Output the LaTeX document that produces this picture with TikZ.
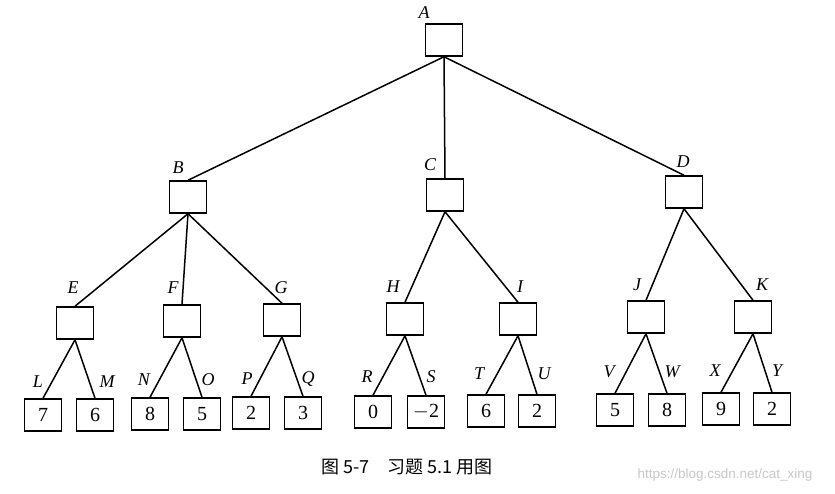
\documentclass[tikz,border=0pt]{standalone}
\usepackage{fontspec}
\usepackage{tikz}
\setmainfont{Liberation Serif}
\newfontfamily\cjkfont{Noto Sans CJK SC}
\newfontfamily\wmfont{Liberation Sans}
\usetikzlibrary{positioning}

\begin{document}
\begin{tikzpicture}[x=1pt,y=-1pt,line width=1.5pt,
  box/.style={rectangle,draw=black,minimum width=37pt,minimum height=32pt,inner sep=0pt,font=\fontsize{20}{20}\selectfont},
  lbl/.style={inner sep=0pt,font=\fontsize{18}{18}\selectfont\itshape}]
  \useasboundingbox (0,0) rectangle (835,493);

  \node[box] (A) at (444,40){};
  \node[lbl] (lA) at (424,13){A};

  \node[box] (B) at (188,197){};
  \node[lbl] (lB) at (178,168){B};
    \draw (A.south) -- (B.north);
  \node[box] (C) at (445,195){};
  \node[lbl] (lC) at (430,165){C};
    \draw (A.south) -- (C.north);
  \node[box] (D) at (684,192){};
  \node[lbl] (lD) at (683,162){D};
    \draw (A.south) -- (D.north);

  \node[box] (E) at (75,323){};
  \node[lbl] (lE) at (73,288){E};
    \draw (B.south) -- (E.north);
  \node[box] (F) at (182,321){};
  \node[lbl] (lF) at (173,288){F};
    \draw (B.south) -- (F.north);
  \node[box] (G) at (282,320){};
  \node[lbl] (lG) at (281,288){G};
    \draw (B.south) -- (G.north);
  \node[box] (H) at (405,319){};
  \node[lbl] (lH) at (393,287){H};
    \draw (C.south) -- (H.north);
  \node[box] (I) at (518,319){};
  \node[lbl] (lI) at (520,287){I};
    \draw (C.south) -- (I.north);
  \node[box] (J) at (646,317){};
  \node[lbl] (lJ) at (637,285){J};
    \draw (D.south) -- (J.north);
  \node[box] (K) at (753,317){};
  \node[lbl] (lK) at (762,285){K};
    \draw (D.south) -- (K.north);

  \node[box] (L) at (43,415){7};
  \node[lbl] (lL) at (38,382){L};
    \draw (E.south) -- (L.north);
  \node[box] (M) at (95,415){6};
  \node[lbl] (lM) at (107,382){M};
    \draw (E.south) -- (M.north);
  \node[box] (N) at (150,414){8};
  \node[lbl] (lN) at (144,380){N};
    \draw (F.south) -- (N.north);
  \node[box] (O) at (202,414){5};
  \node[lbl] (lO) at (208,380){O};
    \draw (F.south) -- (O.north);
  \node[box] (P) at (251,413){2};
  \node[lbl] (lP) at (247,379){P};
    \draw (G.south) -- (P.north);
  \node[box] (Q) at (303,413){3};
  \node[lbl] (lQ) at (308,379){Q};
    \draw (G.south) -- (Q.north);
  \node[box] (R) at (373,412){0};
  \node[lbl] (lR) at (367,377){R};
    \draw (H.south) -- (R.north);
  \node[box] (S) at (426,412){$-$2};
  \node[lbl] (lS) at (431,377){S};
    \draw (H.south) -- (S.north);
  \node[box] (T) at (486,411){6};
  \node[lbl] (lT) at (479,374){T};
    \draw (I.south) -- (T.north);
  \node[box] (U) at (537,411){2};
  \node[lbl] (lU) at (544,374){U};
    \draw (I.south) -- (U.north);
  \node[box] (V) at (615,410){5};
  \node[lbl] (lV) at (609,372){V};
    \draw (J.south) -- (V.north);
  \node[box] (W) at (667,410){8};
  \node[lbl] (lW) at (672,372){W};
    \draw (J.south) -- (W.north);
  \node[box] (X) at (721,409){9};
  \node[lbl] (lX) at (715,371){X};
    \draw (K.south) -- (X.north);
  \node[box] (Y) at (772,409){2};
  \node[lbl] (lY) at (777,371){Y};
    \draw (K.south) -- (Y.north);

  \node[inner sep=0pt,font=\cjkfont\fontsize{18}{18}\selectfont] (cap) at (407,467){图 5-7\quad 习题 5.1 用图};
  \node[inner sep=0pt,text=black!22,font=\wmfont\fontsize{13.5}{13.5}\selectfont] (wm) at (725,475){https://blog.csdn.net/cat\_xing};

\end{tikzpicture}
\end{document}
